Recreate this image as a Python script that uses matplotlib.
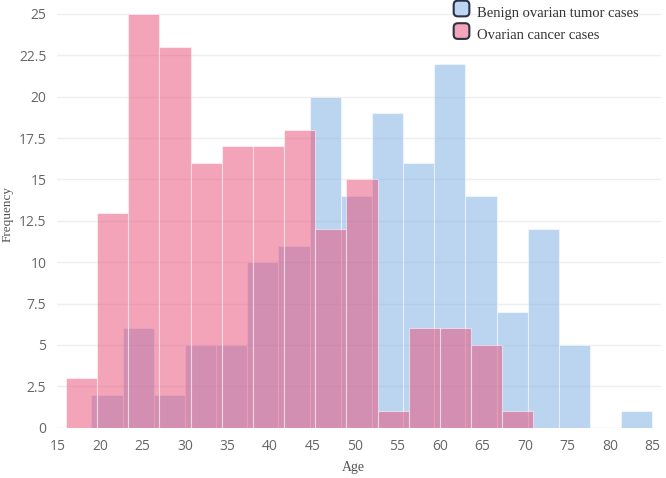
import numpy as np
import matplotlib
matplotlib.use("Agg")
import matplotlib.pyplot as plt
import matplotlib.patches as mpatches
from matplotlib.legend_handler import HandlerPatch

# histogram counts
benign_counts = [2, 6, 2, 5, 5, 10, 11, 20, 14, 19, 16, 22, 14, 7, 12, 5, 0, 1]
benign_range = (19, 85)
cancer_counts = [3, 13, 25, 23, 16, 17, 17, 18, 12, 15, 1, 6, 6, 5, 1]
cancer_range = (16, 71)

labels = ["Benign ovarian tumor cases", "Ovarian cancer cases"]
x_ticks = list(range(15, 90, 5))
y_ticks = [0, 2.5, 5, 7.5, 10, 12.5, 15, 17.5, 20, 22.5, 25]

blue = "#79ade5"
pink = "#e94b73"


class RoundHandler(HandlerPatch):
    def create_artists(self, legend, orig_handle, xdescent, ydescent,
                       width, height, fontsize, trans):
        s = min(width, height) * 1.2
        p = mpatches.FancyBboxPatch(
            (xdescent, ydescent + (height - s) / 2), s, s,
            boxstyle="round,pad=0,rounding_size=3",
            facecolor=orig_handle.get_facecolor(),
            edgecolor="#2b3245", linewidth=1.5, transform=trans)
        return [p]


fig = plt.figure(figsize=(6.66, 4.78), dpi=100)
ax = fig.add_axes([0.0863, 0.1052, 0.906, 0.8948])

for counts, (lo, hi), col in [(benign_counts, benign_range, blue),
                              (cancer_counts, cancer_range, pink)]:
    edges = np.linspace(lo, hi, len(counts) + 1)
    ax.bar(edges[:-1], counts, width=np.diff(edges), align="edge",
           color=col, alpha=0.5, edgecolor="white", linewidth=0.8, zorder=2)

ax.set_xlim(15, 86)
ax.set_ylim(0, 25.84)
ax.set_xticks(x_ticks)
ax.set_yticks(y_ticks)
ax.set_yticklabels([f"{v:g}" for v in y_ticks])
ax.tick_params(length=0, labelsize=10, labelcolor="#666666", pad=8)
for lab in ax.get_xticklabels() + ax.get_yticklabels():
    lab.set_family("Open Sans")
ax.grid(True, axis="y", color="#eeeeee", linewidth=1, zorder=0)
ax.set_axisbelow(True)
for sp in ax.spines.values():
    sp.set_visible(False)

ax.set_xlabel("Age", family="Liberation Serif", fontsize=10, color="#555555", va="center")
ax.set_ylabel("Frequency", family="Liberation Serif", fontsize=9.5, color="#555555", va="center")
ax.xaxis.set_label_coords(0.49, -0.094)
ax.yaxis.set_label_coords(-0.082, 0.5)

handles = [mpatches.Patch(facecolor="#bcd6f2"), mpatches.Patch(facecolor="#f4a5b9")]
leg = ax.legend(handles, labels, loc="upper right", bbox_to_anchor=(0.968, 0.995),
                frameon=False, handler_map={mpatches.Patch: RoundHandler()},
                prop={"family": "Liberation Serif", "size": 10.5},
                handlelength=1.1, handleheight=1.0, handletextpad=0.5,
                labelspacing=0.55, borderaxespad=0.0, borderpad=0.2)
for t in leg.get_texts():
    t.set_color("#333333")

fig.savefig("out.png", dpi=100)
